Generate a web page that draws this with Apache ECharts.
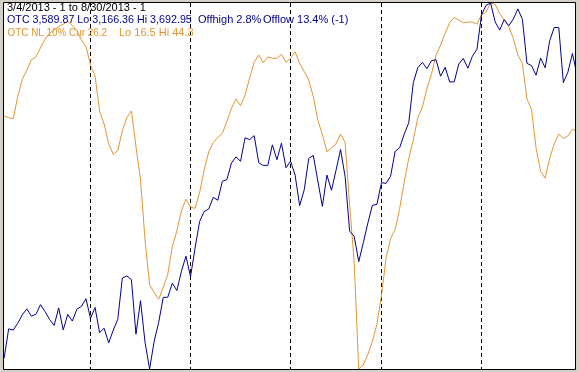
<!DOCTYPE html>
<html>
<head>
<meta charset="utf-8">
<script src="https://cdn.jsdelivr.net/npm/echarts@6/dist/echarts.min.js"></script>
<style>
html,body{margin:0;padding:0;background:#d4d0c8;}
#chart{width:579px;height:372px;}
</style>
</head>
<body>
<div id="chart"></div>
<script>
// Trading days, 3/4/2013 .. 8/30/2013
const dates = [
 '3/4','3/5','3/6','3/7','3/8','3/11','3/12','3/13','3/14','3/15','3/18','3/19','3/20','3/21','3/22','3/25','3/26','3/27','3/28',
 '4/1','4/2','4/3','4/4','4/5','4/8','4/9','4/10','4/11','4/12','4/15','4/16','4/17','4/18','4/19','4/22','4/23','4/24','4/25','4/26','4/29','4/30',
 '5/1','5/2','5/3','5/6','5/7','5/8','5/9','5/10','5/13','5/14','5/15','5/16','5/17','5/20','5/21','5/22','5/23','5/24','5/28','5/29','5/30','5/31',
 '6/3','6/4','6/5','6/6','6/7','6/10','6/11','6/12','6/13','6/14','6/17','6/18','6/19','6/20','6/21','6/24','6/25','6/26','6/27','6/28',
 '7/1','7/2','7/3','7/5','7/8','7/9','7/10','7/11','7/12','7/15','7/16','7/17','7/18','7/19','7/22','7/23','7/24','7/25','7/26','7/29','7/30','7/31',
 '8/1','8/2','8/5','8/6','8/7','8/8','8/9','8/12','8/13','8/14','8/15','8/16','8/19','8/20','8/21','8/22','8/23','8/26','8/27','8/28','8/29','8/30'
];

// OTC (Nasdaq composite) closes
const otc = [
 3182.03,3224.13,3222.37,3232.09,3244.37,3252.87,3242.32,3245.12,3258.93,3249.07,3237.59,3229.10,3254.19,3222.60,3245.00,3235.30,3252.48,3256.52,3267.52,
 3239.17,3254.86,3218.60,3224.98,3203.86,3222.25,3237.86,3297.25,3300.16,3294.95,3216.49,3264.63,3204.67,3166.36,3206.06,3233.55,3269.33,3269.65,3289.99,3279.26,3307.02,3328.79,
 3299.13,3340.62,3378.63,3392.97,3396.63,3413.27,3409.17,3436.58,3438.79,3462.61,3471.62,3465.24,3498.97,3496.43,3502.12,3463.30,3459.14,3459.42,3488.89,3467.52,3491.30,3455.91,
 3465.37,3445.26,3401.48,3424.05,3469.22,3473.77,3436.95,3400.43,3445.37,3423.56,3452.13,3482.18,3443.20,3364.64,3357.25,3320.76,3347.89,3376.22,3401.86,3403.25,
 3434.49,3433.40,3443.67,3479.38,3484.83,3504.26,3520.76,3578.30,3600.08,3607.49,3598.50,3610.00,3611.28,3587.61,3600.39,3579.27,3579.60,3605.19,3613.16,3599.14,3616.47,3626.37,
 3675.74,3689.59,3692.95,3665.77,3654.01,3669.12,3660.11,3669.95,3684.44,3669.27,3606.12,3602.78,3589.09,3613.59,3599.79,3638.71,3657.79,3657.57,3578.52,3593.35,3620.30,3589.87
];

// OTC NL 10% (plotted on an inverted scale)
const otcNL = [
 25.1,25.2,25.3,23.6,22.3,21.6,20.8,20.6,19.9,19.25,18.8,18.55,18.3,18.1,17.9,18.2,18.6,19.3,19.8,
 21.2,22.05,24.7,25.7,27.2,28.0,27.7,26.2,25.2,24.7,27.4,29.9,34.5,37.9,38.5,39.0,38.1,37.1,35.0,33.8,32.3,31.4,
 32.0,32.1,30.9,29.2,27.8,27.1,26.7,26.4,25.5,24.5,23.8,24.3,23.5,22.2,21.0,20.45,21.05,20.6,20.7,20.7,20.4,21.0,
 20.7,20.2,21.1,21.7,22.35,23.6,25.4,26.5,27.8,27.5,27.2,26.45,27.1,31.85,36.2,44.3,44.0,43.2,42.2,40.9,
 38.7,35.9,34.4,33.7,32.1,30.1,28.3,26.9,25.2,24.4,23.0,21.9,20.45,19.7,18.8,18.0,17.6,17.8,18.0,17.95,17.95,18.1,
 17.4,17.2,16.5,16.6,17.3,17.8,18.3,19.2,20.45,21.1,23.8,24.6,27.5,29.3,29.8,28.3,27.2,26.45,26.8,26.6,26.1,26.2
];

// Month-start dividers (category values)
const monthStarts = ['4/1','5/1','6/3','7/1','8/1'];

const BLUE = '#000090';
const ORANGE = '#e39530';

const headerTexts = [
  {text: '3/4/2013 - 1 to 8/30/2013 - 1', x: 7, y: 2, color: '#000000', sx: 1},
  {text: 'OTC 3,589.87 Lo 3,166.36 Hi 3,692.95', x: 7, y: 14.5, color: BLUE, sx: 0.975},
  {text: 'Offhigh 2.8%', x: 198, y: 14.5, color: BLUE, sx: 1},
  {text: 'Offlow 13.4% (-1)', x: 263, y: 14.5, color: BLUE, sx: 1},
  {text: 'OTC NL 10% Cur 26.2', x: 7.5, y: 27, color: ORANGE, sx: 0.9},
  {text: 'Lo 16.5 Hi 44.3', x: 119, y: 27, color: ORANGE, sx: 1}
];

const chart = echarts.init(document.getElementById('chart'), null, {renderer: 'canvas'});

const gridLeft = 4.12, gridWidth = 572.86;
const frameElems = [
  {type: 'rect', z: 100, shape: {x: 576, y: 0, width: 3, height: 372}, style: {fill: '#d4d0c8'}},
  {type: 'rect', z: 100, shape: {x: 0, y: 370, width: 579, height: 2}, style: {fill: '#d4d0c8'}},
  {type: 'rect', z: 100, shape: {x: 0, y: 0, width: 579, height: 2}, style: {fill: '#d4d0c8'}},
  {type: 'rect', z: 101, shape: {x: 3.5, y: 2.5, width: 572, height: 367}, style: {fill: null, stroke: '#000', lineWidth: 1}}
];
const textElems = headerTexts.map(l => ({
  type: 'text', z: 110, x: l.x, y: l.y, scaleX: l.sx,
  style: {text: l.text, fill: l.color, font: '11px "Liberation Sans", Arial, sans-serif', textVerticalAlign: 'top'}
}));

chart.setOption({
  backgroundColor: '#d4d0c8',
  animation: false,
  grid: {left: gridLeft, width: gridWidth, top: 3, bottom: 3, show: true, backgroundColor: '#ffffff', borderWidth: 0},
  xAxis: {
    type: 'category', data: dates, boundaryGap: false,
    axisLine: {show: false}, axisTick: {show: false}, axisLabel: {show: false},
    splitLine: {
      show: true,
      interval: (idx, val) => monthStarts.indexOf(val) >= 0,
      lineStyle: {color: '#000000', width: 1, type: [4, 3]}
    }
  },
  yAxis: [
    {type: 'value', min: 3166.36, max: 3692.95, show: false, splitLine: {show: false}},
    {type: 'value', min: 16.5, max: 44.3, inverse: true, show: false, splitLine: {show: false}}
  ],
  series: [
    {name: 'OTC NL 10%', type: 'line', yAxisIndex: 1, data: otcNL, symbol: 'none', lineStyle: {color: ORANGE, width: 1}, z: 2},
    {name: 'OTC', type: 'line', yAxisIndex: 0, data: otc, symbol: 'none', lineStyle: {color: BLUE, width: 1}, z: 3}
  ],
  graphic: {elements: frameElems.concat(textElems)}
});
</script>
</body>
</html>
